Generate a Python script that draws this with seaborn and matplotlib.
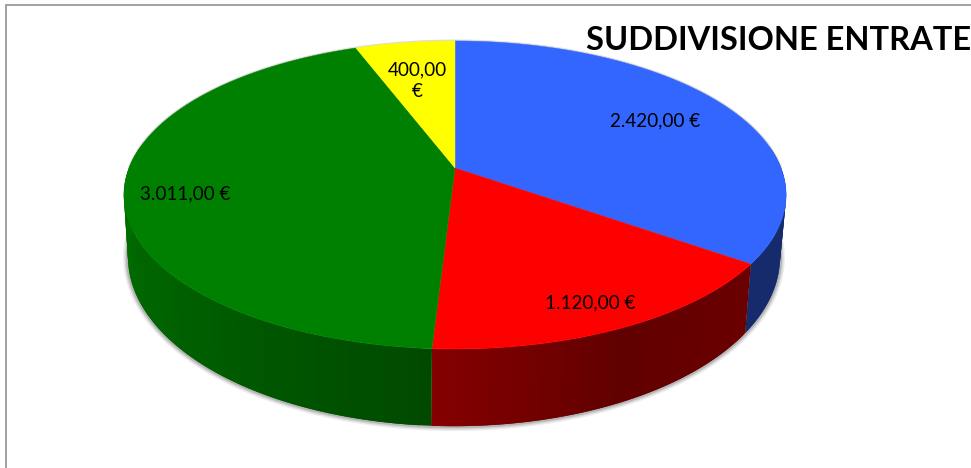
import matplotlib
matplotlib.use("Agg")
import matplotlib.pyplot as plt
import numpy as np
import seaborn as sns

# entrate
categories = ["Blu", "Rosso", "Verde", "Giallo"]
values = [2420.00, 1120.00, 3011.00, 400.00]
title = "SUDDIVISIONE ENTRATE"
label_radius = [0.73, 0.85, 0.82, 0.66]
label_shift = [(0, 0), (-3, 3), (0, 7), (-3, 0)]
wall_shade = [[0.42, 0.42], [0.42, 0.38, 0.52], [0.58, 0.78, 0.92, 0.92], [0.6, 0.6]]

sns.set_theme(style="white")
plt.rcParams["font.family"] = ["Lato", "DejaVu Sans"]
colors = sns.color_palette(["#3366FF", "#FF0000", "#008000", "#FFFF00"])

TILT = 0.175


def project(theta, r=1.0, x0=455, y0=168, cx=326, cy=149.3):
    # circle to screen, with the near side drawn larger
    t = np.radians(theta)
    w = 1 + TILT * r * np.sin(t)
    return x0 + cx * r * np.cos(t) / w, y0 - cy * r * np.sin(t) / w


def project_base(theta):
    return project(theta, x0=454, y0=227.4, cx=321, cy=164)


def euro(v):
    s = f"{v:,.2f}".replace(",", "#").replace(".", ",").replace("#", ".")
    return s


fig = plt.figure(figsize=(9.71, 4.68), dpi=100)
ax = fig.add_axes([0, 0, 1, 1])
ax.set_xlim(0, 971)
ax.set_ylim(468, 0)
ax.axis("off")

ax.plot([6, 6, 971], [468, 5, 5], color="#999999", lw=1.3, solid_joinstyle="miter")

# slice angles, clockwise from the top
edges = 90 - np.concatenate([[0], np.cumsum(values)]) / np.sum(values) * 360

# soft shadow round the base and the back of the lid
arc = np.linspace(-185, 5, 200)
bx, by = project_base(arc)
for lw, a in zip([7, 5, 3], [0.10, 0.15, 0.25]):
    ax.plot(bx, by, color="#555555", lw=lw, alpha=a, solid_capstyle="round", zorder=1)
arc = np.linspace(0, 180, 200)
tx, ty = project(arc)
ax.plot(tx, ty, color="#777777", lw=2.0, alpha=0.25, zorder=1)

# side wall, cut in narrow strips so it can be shaded
for i, color in enumerate(colors):
    start, stop = edges[i], edges[i + 1]
    thetas = np.linspace(start, stop, 90)
    pos = np.linspace(0, 1, len(thetas) - 1)
    shade = np.interp(pos, np.linspace(0, 1, len(wall_shade[i])), wall_shade[i])
    for j in range(len(thetas) - 1):
        mid = (thetas[j] + thetas[j + 1]) / 2
        if np.sin(np.radians(mid)) > 0.15:
            continue
        # each strip runs under the next one, no seams that way
        t = thetas[j:j + 3]
        x1, y1 = project(t)
        x2, y2 = project_base(t)
        c = tuple(np.array(color) * shade[j])
        ax.fill(np.r_[x1, x2[::-1]], np.r_[y1, y2[::-1]], color=c, lw=0, zorder=2)

# top of the pie
for i, color in enumerate(colors):
    x, y = project(np.linspace(edges[i], edges[i + 1], 200))
    ax.fill(np.r_[455, x], np.r_[168, y], color=color, lw=0.3, zorder=3)

# value labels
for i, v in enumerate(values):
    mid = (edges[i] + edges[i + 1]) / 2
    x, y = project(mid, r=label_radius[i])
    text = euro(v) + " €" if v >= 1000 else euro(v) + "\n€"
    ax.text(x + label_shift[i][0], y + label_shift[i][1], text, ha="center", va="center",
            fontsize=13.6, color="black", linespacing=1.35, zorder=4)

ax.text(971, 41, title, ha="right", va="center", fontsize=23.5, fontweight="bold",
        color="black", zorder=4)

fig.savefig("out.png", dpi=100, facecolor="white")
